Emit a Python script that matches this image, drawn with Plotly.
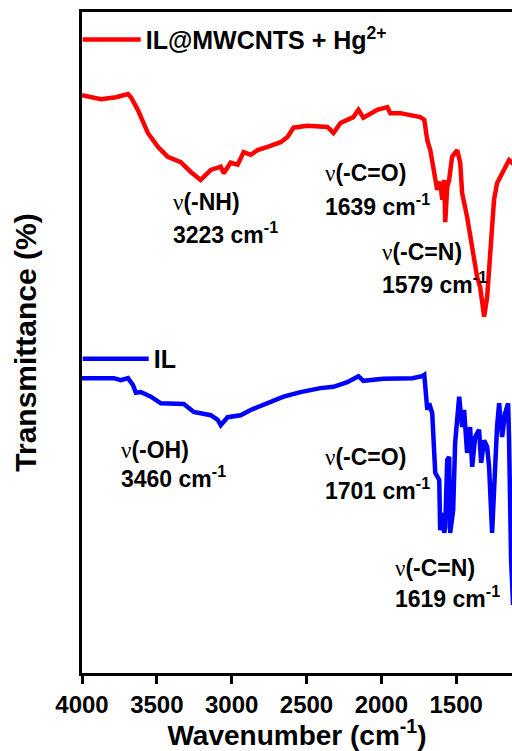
import plotly.graph_objects as go

# ---- data (wavenumber in cm^-1, transmittance in arbitrary % units) ----
red_name = "IL@MWCNTS + Hg<sup>2+</sup>"
red_wn = [4000, 3873, 3773, 3693, 3673, 3627, 3560, 3493, 3427, 3340, 3273, 3207, 3140, 3073,
          3053, 3007, 2960, 2920, 2873, 2827, 2760, 2673, 2627, 2587, 2493, 2360, 2320, 2273,
          2187, 2153, 2120, 2027, 1960, 1940, 1873, 1793, 1740, 1713, 1693, 1673, 1647, 1627,
          1607, 1593, 1580, 1573, 1560, 1547, 1527, 1493, 1473, 1460, 1427, 1393, 1360, 1340,
          1313, 1293, 1273, 1247, 1227, 1207, 1173, 1147, 1127, 1100]
red_t = [87.4, 86.8, 87.1, 87.6, 87.1, 85.2, 81.7, 79.6, 78.1, 77.3, 75.8, 74.6, 76.1, 76.6,
         75.6, 77.2, 76.9, 78.8, 78.4, 79.1, 79.6, 80.3, 81.1, 82.5, 82.8, 82.6, 81.7, 83.2,
         84.1, 85.2, 84.0, 85.2, 85.6, 84.7, 84.7, 84.4, 84.1, 83.7, 80.6, 79.1, 75.6, 73.1,
         74.3, 71.6, 74.6, 68.2, 73.5, 74.6, 78.1, 79.1, 77.2, 72.6, 69.0, 64.4, 59.9, 58.4,
         53.9, 56.9, 64.0, 71.6, 74.1, 75.0, 76.6, 77.6, 77.2, 78.0]

blue_name = "IL"
blue_wn = [4000, 3873, 3787, 3740, 3693, 3660, 3640, 3607, 3540, 3473, 3387, 3320, 3253, 3207,
           3140, 3093, 3073, 3027, 2940, 2873, 2760, 2653, 2540, 2407, 2320, 2227, 2153, 2120,
           1987, 1873, 1793, 1727, 1713, 1693, 1680, 1660, 1640, 1613, 1607, 1593, 1580, 1573,
           1560, 1547, 1540, 1520, 1507, 1480, 1460, 1447, 1427, 1407, 1393, 1373, 1347, 1333,
           1313, 1293, 1280, 1260, 1240, 1227, 1213, 1193, 1173, 1153, 1147, 1133, 1120]
blue_t = [44.6, 44.5, 44.6, 44.3, 44.6, 43.6, 42.4, 42.5, 41.8, 40.8, 40.8, 40.7, 39.5, 39.3,
          39.0, 38.3, 37.5, 38.7, 39.0, 39.8, 40.8, 41.8, 42.5, 43.1, 43.3, 44.0, 44.9, 44.2,
          44.5, 44.6, 44.6, 44.9, 45.1, 39.8, 40.8, 39.3, 30.3, 29.2, 21.6, 24.2, 21.2, 22.1,
          32.2, 32.7, 21.2, 24.7, 34.8, 41.8, 37.2, 39.8, 33.3, 37.2, 31.2, 35.7, 36.8, 31.8,
          35.2, 34.2, 31.2, 21.2, 32.2, 37.2, 40.8, 35.7, 39.3, 40.8, 35.7, 17.1, 10.3]

# peak labels: wavenumber at label left edge, y of first and second line
label_wn = [3407, 2387, 2007, 3753, 2387, 1920]
label_y1 = [71.3, 75.6, 63.7, 33.7, 32.7, 15.9]
label_y2 = [66.6, 70.8, 59.0, 29.7, 27.8, 11.5]
label_group = ["-NH", "-C=O", "-C=N", "-OH", "-C=O", "-C=N"]
label_value = ["3223", "1639", "1579", "3460", "1701", "1619"]

x_range = [4000, 1127]
y_range = [0, 100]
x_ticks = [4000, 3500, 3000, 2500, 2000, 1500, 1000]

FONT = "Liberation Sans, Arial, sans-serif"

fig = go.Figure()
fig.add_trace(go.Scatter(x=red_wn, y=red_t, mode="lines", name=red_name,
                         line=dict(color="#ff0000", width=4.5), legend="legend"))
fig.add_trace(go.Scatter(x=blue_wn, y=blue_t, mode="lines", name=blue_name,
                         line=dict(color="#0000ff", width=4.5), legend="legend2"))

for wn, y1, y2, g, v in zip(label_wn, label_y1, label_y2, label_group, label_value):
    fig.add_annotation(x=wn, y=y1, xref="x", yref="y", xanchor="left", yanchor="middle",
                       showarrow=False,
                       text='<span style="font-family:Liberation Serif;font-weight:normal">ν</span><b>(' + g + ')</b>',
                       font=dict(family=FONT, size=23, color="black"))
    fig.add_annotation(x=wn, y=y2, xref="x", yref="y", xanchor="left", yanchor="middle",
                       showarrow=False,
                       text="<b>" + v + " cm<sup>-1</sup></b>",
                       font=dict(family=FONT, size=23, color="black"))

fig.update_layout(
    width=512, height=751,
    margin=dict(l=82, r=0, t=12, b=78),
    paper_bgcolor="white", plot_bgcolor="white",
    font=dict(family=FONT, color="black"),
    showlegend=True,
    legend=dict(x=-0.01, y=0.993, xanchor="left", yanchor="top", itemwidth=58,
                bgcolor="rgba(0,0,0,0)", borderwidth=0,
                font=dict(family=FONT, size=25, color="black", weight="bold")),
    legend2=dict(x=-0.01, y=0.51, xanchor="left", yanchor="top", itemwidth=66,
                 bgcolor="rgba(0,0,0,0)", borderwidth=0,
                 font=dict(family=FONT, size=25, color="black", weight="bold")),
    xaxis=dict(range=x_range, tickvals=x_ticks, ticks="outside", ticklen=8, tickwidth=3,
               tickcolor="black", showline=True, linewidth=3, linecolor="black", mirror=True,
               showgrid=False, zeroline=False, ticklabelstandoff=0,
               tickfont=dict(family=FONT, size=24, color="black", weight="bold"),
               title=dict(text="<b>Wavenumber (cm<sup>-1</sup>)</b>", standoff=6,
                          font=dict(family=FONT, size=28, color="black"))),
    yaxis=dict(range=y_range, showticklabels=False, ticks="", showline=True, linewidth=3,
               linecolor="black", mirror=False, showgrid=False, zeroline=False,
               title=dict(text="<b>Transmittance (%)</b>", standoff=34,
                          font=dict(family=FONT, size=30, color="black"))),
)

fig.write_html("out.html")
